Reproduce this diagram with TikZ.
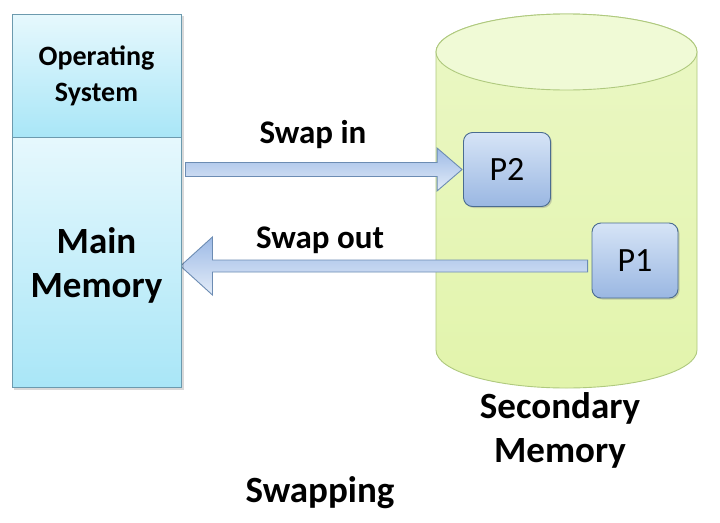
\documentclass[tikz,border=0pt]{standalone}
\usepackage{fontspec}
\setmainfont{Carlito}
\usetikzlibrary{calc,shadows,backgrounds}
\definecolor{boxline}{HTML}{6C9AAE}
\definecolor{cyantop}{HTML}{E6F8FD}
\definecolor{cyanbot}{HTML}{A9E6F7}
\definecolor{cylline}{HTML}{AFC97E}
\definecolor{cylfill}{HTML}{E2F4AC}
\definecolor{cyltop}{HTML}{F0FAD6}
\definecolor{pline}{HTML}{4A6C90}
\definecolor{ptop}{HTML}{D6E4F6}
\definecolor{pbot}{HTML}{9AB7E2}
\definecolor{arrline}{HTML}{6C8CB3}
\definecolor{arrtop}{HTML}{9DBAE6}
\definecolor{arrbot}{HTML}{E3ECF8}
\tikzset{
  membox/.style={draw=boxline, line width=0.9pt, top color=cyantop, bottom color=cyanbot, inner sep=0pt, align=center},
  pbox/.style={draw=pline, line width=0.9pt, rounded corners=9pt, top color=ptop, bottom color=pbot,
     minimum width=87pt, minimum height=74pt, inner sep=0pt, font=\fontsize{34}{38}\selectfont,
     drop shadow={shadow xshift=1.5pt, shadow yshift=-1.5pt, opacity=0.35}},
  blockarrow/.style={draw=arrline, line width=0.9pt, top color=arrtop, bottom color=arrbot, line join=miter},
  lbl/.style={font=\bfseries\fontsize{33}{36}\selectfont, inner sep=0pt},
  biglbl/.style={font=\bfseries\fontsize{37}{44}\selectfont, inner sep=0pt, align=center},
}
\begin{document}
\begin{tikzpicture}[x=1pt,y=-1pt]
\path[use as bounding box] (0,0) rectangle (720,522);

% Main memory column
\fill[black, opacity=0.15] (14,16) rectangle (184,390);
\node[membox, minimum width=169pt, minimum height=123pt, font=\bfseries\fontsize{28}{36}\selectfont] (os) at (96.5,75.5) {Operating\\System};
\node[membox, minimum width=169pt, minimum height=250pt] (mem) at (96.5,262) {};
\node[biglbl] (memlbl) at (96.5,265) {Main\\Memory};

% Processes
\node[pbox] (p2) at (507,169.5) {P2};
\node[pbox, minimum width=86pt, minimum height=75pt] (p1) at (635,260.5) {P1};

\begin{scope}[on background layer]
\fill[white] (0,0) rectangle (720,522);
% Secondary memory cylinder
\path[draw=cylline, line width=0.9pt, top color=cylfill!70!white, bottom color=cylfill]
  (436,52) -- (436,350) arc[start angle=180, end angle=360, x radius=130.5pt, y radius=38pt]
  -- (697,52) arc[start angle=0, end angle=180, x radius=130.5pt, y radius=38pt] -- cycle;
\path[draw=cylline, line width=0.9pt, fill=cyltop] (566.5,52) ellipse[x radius=130.5pt, y radius=38pt];

% Swap in arrow
\coordinate (sinS) at ($(mem.east |- p2.west)+(4,0)$);
\path[blockarrow] ($(sinS)+(0,-7)$) -- ($(p2.west)+(-26,-7)$) -- ($(p2.west)+(-26,-21.5)$) -- ($(p2.west)+(-1,0)$)
  -- ($(p2.west)+(-26,21.5)$) -- ($(p2.west)+(-26,7)$) -- ($(sinS)+(0,7)$) -- cycle;

% Swap out arrow
\coordinate (soT) at ($(mem.east |- p1.west)+(-1,5.5)$);
\coordinate (soS) at ($(p1.west)+(-4,5.5)$);
\path[blockarrow] (soT) -- ($(soT)+(32,-29)$) -- ($(soT)+(32,-6)$) -- ($(soS)+(0,-6)$)
  -- ($(soS)+(0,6)$) -- ($(soT)+(32,6)$) -- ($(soT)+(32,29)$) -- cycle;
\end{scope}

\node[biglbl] (seclbl) at (560,430) {Secondary\\Memory};

% Labels
\node[lbl] (swin) at (313,135) {Swap in};
\node[lbl] (swout) at (320,240) {Swap out};
\node[biglbl] (swapping) at (320,493) {Swapping};
\end{tikzpicture}
\end{document}
